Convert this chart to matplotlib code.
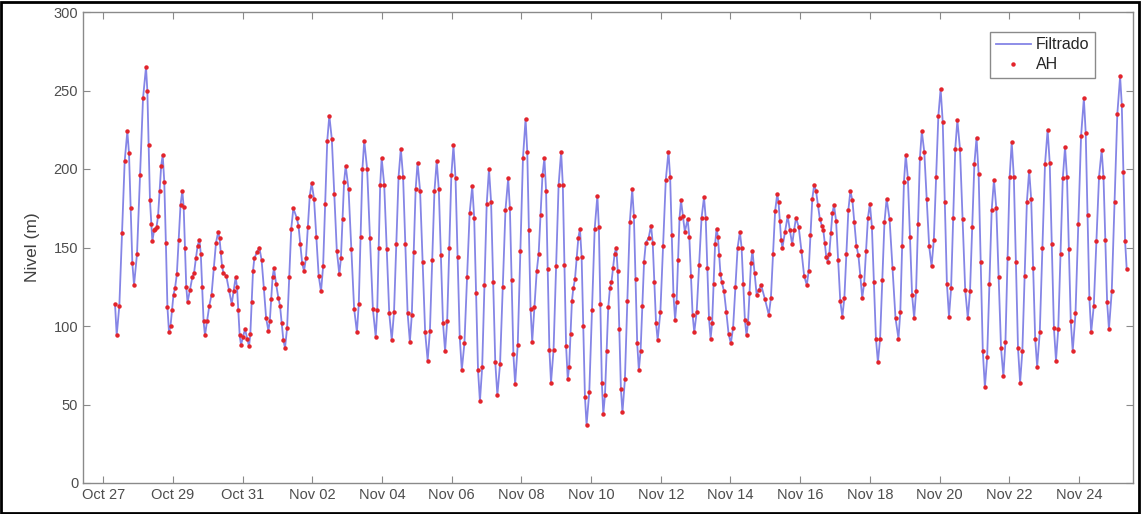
import numpy as np
import matplotlib
matplotlib.use("Agg")
import matplotlib.pyplot as plt
from matplotlib.patches import Rectangle

plt.rcParams['font.family'] = ['Liberation Sans', 'DejaVu Sans']

# Turning points of the level record: time in days since Oct 27 00:00, level (m)
t_turn = [0.339, 0.387, 0.692, 0.884, 1.228, 1.38, 1.41, 1.46, 1.53, 1.707, 1.888, 2.06, 2.27, 2.42,
          2.557, 2.76, 2.92, 3.045, 3.30, 3.447, 3.53, 3.687, 3.80, 3.954, 4.069, 4.184, 4.336, 4.48,
          4.74, 4.90, 5.025, 5.217, 5.456, 5.55, 5.762, 5.982, 6.25, 6.488, 6.775, 6.958, 7.28, 7.49,
          7.82, 7.99, 8.28, 8.54, 8.80, 9.02, 9.31, 9.57, 9.81, 10.05, 10.29, 10.59, 10.81, 11.07,
          11.31, 11.62, 11.82, 12.12, 12.31, 12.44, 12.66, 12.85, 13.14, 13.33, 13.49, 13.68, 13.87,
          14.18, 14.35, 14.54, 14.72, 14.90, 15.18, 15.37, 15.57, 15.65, 15.72, 15.91, 16.22, 16.41,
          16.58, 16.69, 16.77, 16.96, 17.24, 17.43, 17.60, 17.75, 18.01, 18.27, 18.46, 18.63, 18.75,
          18.88, 19.10, 19.34, 19.49, 19.64, 19.77, 19.88, 20.19, 20.40, 20.62, 20.79, 20.97, 21.21,
          21.44, 21.67, 21.78, 22.00, 22.23, 22.48, 22.82, 23.03, 23.27, 23.49, 23.77, 24.03, 24.27,
          24.51, 24.81, 25.06, 25.30, 25.56, 25.83, 26.07, 26.31, 26.57, 26.80, 27.10, 27.34, 27.60,
          27.82, 28.14, 28.35, 28.65, 28.86, 29.18, 29.37]
lvl_turn = [114, 94, 224, 126, 265, 165, 154, 161, 163, 209, 96, 124, 186, 115,
            131, 155, 94, 113, 160, 134, 132, 114, 131, 88, 98, 87, 143, 150,
            97, 137, 118, 86, 175, 169, 135, 191, 122, 234, 133, 202, 96, 218,
            93, 207, 91, 213, 90, 204, 78, 205, 84, 215, 72, 189, 52, 200,
            56, 194, 63, 232, 90, 135, 207, 64, 211, 66, 124, 162, 37,
            183, 44, 124, 150, 45, 187, 72, 153, 156, 164, 91, 211, 104,
            180, 160, 168, 96, 182, 92, 162, 128, 89, 160, 94, 148, 120,
            126, 107, 184, 150, 170, 152, 169, 126, 190, 164, 141, 177, 106,
            186, 145, 118, 178, 77, 181, 92, 209, 105, 224, 138, 251, 106,
            231, 105, 220, 61, 193, 68, 217, 64, 199, 74, 225, 78, 214,
            84, 245, 96, 212, 98, 259, 136]

# Samples read along the rising / falling limbs: time (days since Oct 27), level (m)
t_limb = [0.463, 0.540, 0.616, 0.740, 0.788, 0.836, 0.970, 1.056, 1.142, 1.266, 1.304, 1.342, 1.495,
          1.574, 1.619, 1.663, 1.752, 1.798, 1.843, 1.931, 1.974, 2.017, 2.113, 2.165, 2.218,
          2.308, 2.345, 2.383, 2.489, 2.608, 2.659, 2.709, 2.80, 2.84, 2.88, 2.98,
          3.109, 3.173, 3.236, 3.337, 3.374, 3.41, 3.61, 3.74, 3.839, 3.877, 3.916, 4.01, 4.13,
          4.222, 4.26, 4.298, 4.41, 4.545, 4.61, 4.675, 4.78, 4.82, 4.86, 4.96,
          5.073, 5.121, 5.169, 5.277, 5.337, 5.396, 5.603, 5.656, 5.709, 5.817, 5.872, 5.927,
          6.049, 6.116, 6.183, 6.31, 6.369, 6.429, 6.56, 6.632, 6.703, 6.821, 6.867, 6.912,
          7.04, 7.12, 7.20, 7.333, 7.385, 7.438, 7.573, 7.655, 7.738, 7.863, 7.905, 7.948,
          8.063, 8.135, 8.208, 8.345, 8.41, 8.475, 8.605, 8.67, 8.735, 8.855, 8.91, 8.965,
          9.093, 9.165, 9.238, 9.375, 9.44, 9.505, 9.63, 9.69, 9.75, 9.87, 9.93, 9.99,
          10.11, 10.17, 10.23, 10.365, 10.44, 10.515, 10.645, 10.70, 10.755, 10.875, 10.94, 11.005,
          11.13, 11.19, 11.25, 11.388, 11.465, 11.543, 11.67, 11.72, 11.77, 11.895, 11.97, 12.045,
          12.168, 12.215, 12.263, 12.375, 12.495, 12.55, 12.605, 12.708, 12.755, 12.803,
          12.923, 12.995, 13.068, 13.188, 13.235, 13.283, 13.37, 13.41, 13.45, 13.538, 13.585, 13.633,
          13.728, 13.775, 13.823, 13.948, 14.025, 14.103, 14.223, 14.265, 14.308, 14.398, 14.445, 14.493,
          14.585, 14.63, 14.675, 14.765, 14.81, 14.855, 14.97, 15.04, 15.11, 15.228, 15.275, 15.323,
          15.42, 15.47, 15.52, 15.768, 15.815, 15.863, 15.988, 16.065, 16.143, 16.268, 16.315, 16.363,
          16.453, 16.495, 16.538, 16.635, 16.818, 16.865, 16.913, 17.03, 17.10, 17.17,
          17.288, 17.335, 17.383, 17.473, 17.515, 17.558, 17.638, 17.675, 17.713, 17.815, 17.88, 17.945,
          18.075, 18.14, 18.205, 18.318, 18.365, 18.413, 18.503, 18.545, 18.588, 18.69, 18.815, 18.99,
          19.16, 19.22, 19.28, 19.378, 19.415, 19.453, 19.565, 19.705, 19.825, 19.958, 20.035, 20.113,
          20.243, 20.295, 20.348, 20.455, 20.51, 20.565, 20.663, 20.705, 20.748, 20.835, 20.88, 20.925,
          21.03, 21.09, 21.15, 21.268, 21.325, 21.383, 21.498, 21.555, 21.613, 21.725,
          21.835, 21.89, 21.945, 22.058, 22.115, 22.173, 22.293, 22.355, 22.418, 22.565, 22.65, 22.735,
          22.873, 22.925, 22.978, 23.09, 23.15, 23.21, 23.325, 23.38, 23.435, 23.56, 23.63, 23.70,
          23.835, 23.90, 23.965, 24.09, 24.15, 24.21, 24.33, 24.39, 24.45, 24.585, 24.66, 24.735,
          24.873, 24.935, 24.998, 25.12, 25.18, 25.24, 25.365, 25.43, 25.495, 25.628, 25.695, 25.763,
          25.89, 25.95, 26.01, 26.13, 26.19, 26.25, 26.375, 26.44, 26.505, 26.628, 26.685, 26.743,
          26.875, 26.95, 27.025, 27.16, 27.22, 27.28, 27.405, 27.47, 27.535, 27.655, 27.71, 27.765,
          27.90, 27.98, 28.06, 28.193, 28.245, 28.298, 28.425, 28.50, 28.575, 28.703, 28.755, 28.808,
          28.94, 29.02, 29.10, 29.228, 29.275, 29.323]
lvl_limb = [113, 159, 205, 210, 175, 140, 146, 196, 245, 250, 215, 180, 162,
            170, 186, 202, 192, 153, 112, 100, 110, 120, 133, 155, 177,
            176, 150, 125, 123, 134, 143, 151, 146, 125, 103, 103,
            120, 137, 153, 156, 147, 138, 123, 122, 125, 110, 94, 93, 92,
            95, 115, 135, 147, 142, 124, 105, 103, 117, 131, 127,
            113, 102, 91, 99, 131, 162, 164, 152, 140, 143, 163, 183,
            181, 157, 132, 138, 178, 218, 219, 184, 148, 143, 168, 192,
            187, 149, 111, 114, 157, 200, 200, 156, 111, 110, 150, 190,
            190, 149, 108, 109, 152, 195, 195, 152, 108, 107, 147, 187,
            186, 141, 96, 97, 142, 186, 187, 145, 102, 103, 150, 196,
            194, 144, 93, 89, 131, 172, 169, 121, 72, 74, 126, 178,
            179, 128, 77, 76, 125, 174, 175, 129, 82, 88, 148, 207,
            211, 161, 111, 112, 146, 171, 196, 186, 136, 85,
            85, 138, 190, 190, 139, 87, 74, 95, 116, 130, 143, 156,
            144, 100, 55, 58, 110, 162, 163, 114, 64, 56, 84, 112,
            128, 137, 146, 135, 98, 60, 66, 116, 166, 170, 130, 89,
            84, 113, 141, 153, 128, 102, 109, 151, 193, 195, 158, 120,
            115, 142, 169, 170, 157, 132, 107, 109, 139, 169,
            169, 137, 105, 102, 127, 152, 157, 145, 133, 122, 109, 95,
            99, 125, 150, 150, 127, 104, 102, 121, 140, 134, 123, 117,
            118, 146, 173, 179, 167, 155, 160, 161, 161, 163, 148, 132,
            135, 158, 181, 186, 177, 168, 161, 153, 144, 146, 159, 172,
            167, 142, 116, 118, 146, 174, 180, 166, 151, 132,
            127, 148, 169, 163, 128, 92, 92, 129, 166, 168, 137, 105,
            109, 151, 192, 194, 157, 120, 122, 165, 207, 211, 181, 151,
            155, 195, 234, 230, 179, 127, 124, 169, 213, 213, 168, 123,
            122, 163, 203, 197, 141, 84, 80, 127, 174, 175, 131, 86,
            90, 143, 195, 195, 141, 86, 84, 132, 179, 181, 137, 92,
            96, 150, 203, 204, 152, 99, 98, 146, 194, 195, 149, 103,
            108, 165, 221, 223, 171, 118, 113, 154, 195, 195, 155, 115,
            122, 179, 235, 241, 198, 154]

tick_days = [0, 2, 4, 6, 8, 10, 12, 14, 16, 18, 20, 22, 24, 26, 28]
tick_labels = ['Oct 27', 'Oct 29', 'Oct 31', 'Nov 02', 'Nov 04', 'Nov 06', 'Nov 08', 'Nov 10',
               'Nov 12', 'Nov 14', 'Nov 16', 'Nov 18', 'Nov 20', 'Nov 22', 'Nov 24']
y_ticks = [0, 50, 100, 150, 200, 250, 300]

t_all = np.concatenate([t_turn, t_limb])
l_all = np.concatenate([lvl_turn, lvl_limb])
order = np.argsort(t_all)
t_all, l_all = t_all[order], l_all[order]

fig = plt.figure(figsize=(11.41, 5.14), dpi=100)
ax = fig.add_axes([83/1141, 1-483/514, 1050/1141, 471/514])

ax.plot(t_all, l_all, color='#8585e6', lw=1.3, label='Filtrado', zorder=2)
ax.plot(t_all, l_all, ls='none', marker='o', ms=2.2, color='#e3242b', label='AH', zorder=3)

ax.set_xlim(-0.58, 29.55)
ax.set_ylim(0, 300)
ax.set_xticks(tick_days)
ax.set_xticklabels(tick_labels)
ax.set_yticks(y_ticks)
ax.tick_params(direction='in', length=5, width=0.8, colors='#8a8a8a', labelcolor='#4d4d4d',
               labelsize=10.5, top=True, right=True)
for s in ax.spines.values():
    s.set_color('#8a8a8a')
    s.set_linewidth(1.0)
ax.set_ylabel('Nivel (m)', fontsize=12.5, color='#404040', labelpad=10)

leg = ax.legend(loc='upper right', bbox_to_anchor=(0.971, 0.975), fancybox=False, framealpha=1,
                edgecolor='#8a8a8a', fontsize=11.5, handlelength=2.2, handletextpad=0.3,
                borderpad=0.35, labelspacing=0.3, markerscale=1.0)
for txt in leg.get_texts():
    txt.set_color('#262626')

fig.patches.append(Rectangle((0.001, 0.002), 0.997, 0.995, transform=fig.transFigure,
                             fill=False, edgecolor='black', lw=2))
fig.savefig('out.png', dpi=100)
